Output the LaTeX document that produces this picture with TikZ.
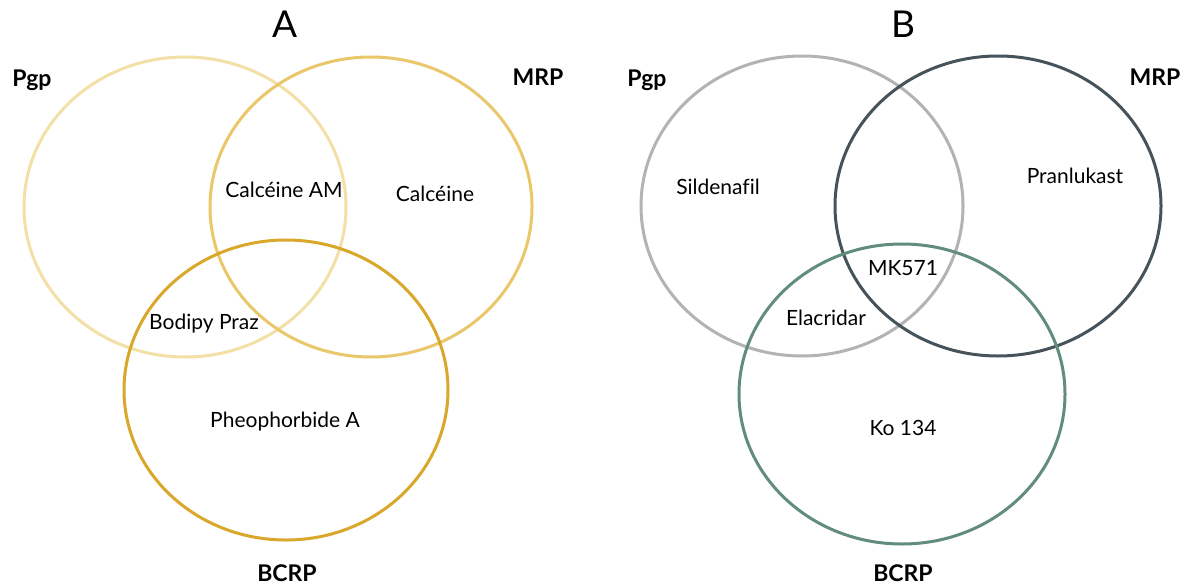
\documentclass[tikz,border=0pt]{standalone}
\usepackage{fontspec}
\setmainfont[Ligatures=NoCommon]{Lato}
\usetikzlibrary{shapes.geometric}
\definecolor{aPgp}{HTML}{F3E0A6}
\definecolor{aMRP}{HTML}{E9C76A}
\definecolor{aBCRP}{HTML}{D9A72A}
\definecolor{bPgp}{HTML}{B3B3B3}
\definecolor{bMRP}{HTML}{46535A}
\definecolor{bBCRP}{HTML}{628D7C}
\begin{document}
\begin{tikzpicture}[x=1pt,y=-1pt,
  setring/.style={draw=#1,line width=3pt,line join=round,line cap=round,ellipse,minimum width=322pt,minimum height=300pt,inner sep=0pt},
  item/.style={font=\fontsize{21}{23}\selectfont,inner sep=0pt,text height=15pt,text depth=0pt},
  setlabel/.style={font=\fontsize{23}{25}\selectfont\bfseries,inner sep=0pt,text height=16.5pt,text depth=0pt},
  panel/.style={font=\fontsize{37}{39}\selectfont,inner sep=0pt,text height=27pt,text depth=0pt}]
\useasboundingbox (0,0) rectangle (1188,586);
\fill[white] (0,0) rectangle (1188,586);
% Panel A
\node[panel] (tA) at (285,24) {A};
\node[setring=aPgp] (pgpA) at (185,207) {};
\node[setring=aMRP] (mrpA) at (371,207) {};
\node[setring=aBCRP,minimum width=324pt] (bcrpA) at (286,390) {};
\node[setlabel] (lpgpA) at (32,78) {Pgp};
\node[setlabel] (lmrpA) at (538,77) {MRP};
\node[setlabel] (lbcrpA) at (287,573) {BCRP};
\node[item] (cam) at (284,190) {Calcéine AM};
\node[item] (cal) at (435,194) {Calcéine};
\node[item] (bod) at (204,322) {Bodipy Praz};
\node[item] (phe) at (285,420) {Pheophorbide A};
% Panel B
\node[panel] (tB) at (903,24) {B};
\node[setring=bPgp] (pgpB) at (802,206) {};
\node[setring=bMRP,minimum width=326pt] (mrpB) at (998,206) {};
\node[setring=bBCRP,minimum width=326pt] (bcrpB) at (902,394) {};
\node[setlabel] (lpgpB) at (647,78) {Pgp};
\node[setlabel] (lmrpB) at (1155,77) {MRP};
\node[setlabel] (lbcrpB) at (903,573) {BCRP};
\node[item] (sil) at (718,187) {Sildenafil};
\node[item] (pra) at (1075,176) {Pranlukast};
\node[item] (mk) at (903,268) {MK571};
\node[item] (ela) at (826,318) {Elacridar};
\node[item] (ko) at (903,428) {Ko 134};
\end{tikzpicture}
\end{document}
